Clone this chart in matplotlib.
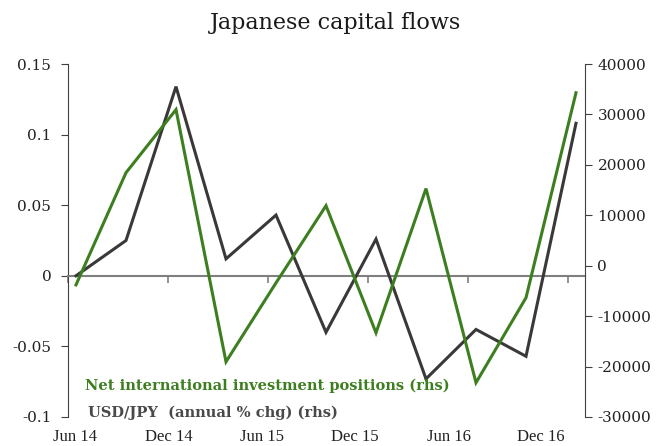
import matplotlib
matplotlib.use("Agg")
import matplotlib.pyplot as plt

quarters = ["Jun 14", "Sep 14", "Dec 14", "Mar 15", "Jun 15", "Sep 15",
            "Dec 15", "Mar 16", "Jun 16", "Sep 16", "Dec 16"]
usdjpy = [0.0, 0.025, 0.134, 0.012, 0.043, -0.040, 0.026, -0.073, -0.038, -0.057, 0.108]
niip = [-3800, 18450, 30950, -19050, -3400, 11900, -13300, 15300, -23200, -6350, 34300]

left_ticks = [-0.1, -0.05, 0, 0.05, 0.1, 0.15]
left_labels = ["-0.1", "-0.05", "0", "0.05", "0.1", "0.15"]
right_ticks = [-30000, -20000, -10000, 0, 10000, 20000, 30000, 40000]
right_labels = [str(v) for v in right_ticks]
x_labels = ["Jun 14", "Dec 14", "Jun 15", "Dec 15", "Jun 16", "Dec 16"]
x_label_pos = [-0.02, 1.86, 3.72, 5.58, 7.46, 9.30]
x_tick_pos = [-0.16, 1.84, 3.84, 5.84, 7.84, 9.84]

GREEN = "#3d7f20"
DARK = "#3a3838"
SERIF = ["Liberation Serif", "DejaVu Serif"]
WIDE = ["DejaVu Serif"]

fig = plt.figure(figsize=(6.7, 4.46), dpi=100)
ax = fig.add_axes([68/670, 1-417/446, (585-68)/670, (417-64)/446])
ax2 = ax.twinx()

x = list(range(len(quarters)))
ax.plot(x, usdjpy, color=DARK, lw=2.2, zorder=3, solid_joinstyle="miter")
ax2.plot(x, niip, color=GREEN, lw=2.2, zorder=3, solid_joinstyle="miter")

ax.set_xlim(-0.16, 10.18)
ax.set_ylim(-0.1, 0.15)
ax2.set_ylim(-30000, 40000)

ax.set_yticks(left_ticks)
ax.set_yticklabels(left_labels, fontsize=11, family=WIDE, color="#222222")
ax2.set_yticks(right_ticks)
ax2.set_yticklabels(right_labels, fontsize=11, family=WIDE, color="#222222")

ax.set_xticks(x_tick_pos)
ax.set_xticklabels([])
ax.tick_params(axis="x", direction="out", length=5, color="#7f7f7f", width=1.2)
ax.tick_params(axis="y", direction="out", length=5, color="#404040", pad=7)
ax2.tick_params(axis="y", direction="out", length=5, color="#404040", pad=4)

for s in ["top"]:
    ax.spines[s].set_visible(False)
    ax2.spines[s].set_visible(False)
ax2.spines["bottom"].set_visible(False)
ax2.spines["left"].set_visible(False)
ax.spines["right"].set_visible(False)
ax.spines["bottom"].set_position(("data", 0))
ax.spines["bottom"].set_color("#7f7f7f")
ax.spines["bottom"].set_linewidth(1.5)
ax.spines["left"].set_color("#404040")
ax2.spines["right"].set_color("#404040")

tr = ax.get_xaxis_transform()
for lab, p in zip(x_labels, x_label_pos):
    ax.text(p, -0.057, lab, transform=tr, ha="center", va="center",
            fontsize=12, family=SERIF, color="#222222")

fig.text(0.5, 1-23/446, "Japanese capital flows", ha="center", va="center",
         fontsize=16, family=WIDE, color="#1a1a1a")

fig.text(85/670, 1-386/446, "Net international investment positions (rhs)",
         ha="left", va="center", fontsize=10.5, fontweight="bold",
         family=WIDE, color=GREEN)
fig.text(88/670, 1-413/446, "USD/JPY  (annual % chg) (rhs)",
         ha="left", va="center", fontsize=10.5, fontweight="bold",
         family=WIDE, color="#4a4848")

fig.savefig("out.png", dpi=100)
